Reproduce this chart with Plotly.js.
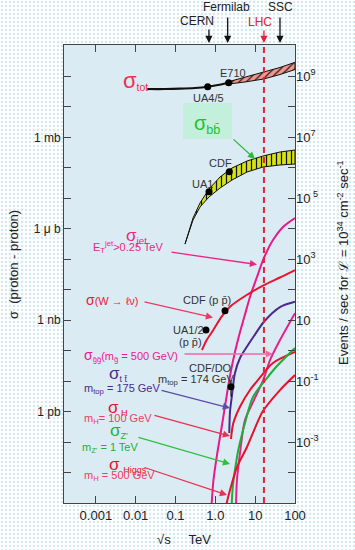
<!DOCTYPE html>
<html><head><meta charset="utf-8">
<script src="https://cdn.plot.ly/plotly-3.0.1.min.js"></script>
<style>
html,body{margin:0;padding:0;}
body{width:355px;height:550px;background-color:#fbfdfe;
background-image:radial-gradient(#d3e6f0 0.7px, transparent 0.9px);background-size:4px 4px;}
#chart{width:355px;height:550px;}
</style></head>
<body><div id="chart"></div>
<script>
// ---- data (sqrt(s) in TeV, sigma in nb) ----
const sqrtS_tot = [0.0195, 0.0545, 0.129, 0.308, 0.643, 1.16, 2.16];
const sigma_tot = [3.85e7, 3.85e7, 3.94e7, 4.16e7, 4.58e7, 5.21e7, 6.2e7];
const sqrtS_totBand = [2.16, 5.55, 16.3, 42, 100];
const sigma_totHi = [6.7e7, 9.55e7, 1.36e8, 1.96e8, 2.9e8];
const sigma_totLo = [5.6e7, 6.55e7, 8.2e7, 1.15e8, 1.68e8];

const sqrtS_bb = [0.173, 0.275, 0.412, 0.692, 1.31, 2.62, 6.23, 15.7, 42, 100];
const sigma_bbHi = [315, 2250, 7000, 2.01e4, 4.99e4, 9.84e4, 1.67e5, 2.44e5, 3.30e5, 3.84e5];
const sigma_bbLo = [315, 1936, 5160, 1.10e4, 2.17e4, 3.97e4, 7.28e4, 1.06e5, 1.24e5, 1.33e5];

const sqrtS_jet = [0.778, 0.809, 0.897, 1.10, 1.47, 1.85, 2.33, 3.11, 4.16, 5.24, 7.41, 11.1, 16.6, 28.0, 49.9, 100];
const sigma_jet = [5.9e-7, 1e-6, 5.68e-6, 3.75e-5, 3.62e-4, 2.39e-3, 0.0147, 0.0901, 0.408, 1.17, 5.75, 26.1, 110, 427, 1140, 2250];

const sqrtS_W = [0.462, 0.607, 0.887, 1.44, 2.33, 6.12, 16.6, 42.0, 100];
const sigma_W = [0.105, 0.223, 0.475, 1.30, 2.76, 6.68, 14.2, 25.1, 44.2];

const sqrtS_tt = [2.24, 2.33, 2.62, 3.11, 4.16, 6.60, 9.33, 16.6, 42, 100];
const sigma_tt = [1.98e-4, 9.66e-4, 3.49e-3, 0.0184, 0.0573, 0.153, 0.302, 0.889, 2.70, 4.03];

const sqrtS_gg = [3.28, 3.49, 4.16, 5.55, 9.33, 16.0, 23.6, 42, 100];
const sigma_gg = [6e-7, 5.68e-6, 4.37e-5, 5.28e-4, 2.39e-3, 0.0109, 0.0492, 0.223, 1.7];

const sqrtS_Zp = [2.54, 2.73, 3.11, 3.77, 5.55, 8.81, 19.8, 35.3, 100];
const sigma_Zp = [5.9e-7, 3.34e-6, 1.21e-5, 5.47e-5, 4.21e-4, 3.01e-3, 0.0126, 0.0313, 0.122];

const sqrtS_H100 = [2.47, 2.82, 4.16, 7.41, 11.8, 28.0, 100];
const sigma_H100 = [1.26e-4, 4.11e-4, 1.44e-3, 5.09e-3, 0.0109, 0.0392, 0.0901];

const sqrtS_H500 = [1.81, 1.96, 2.62, 3.49, 6.23, 9.89, 15.7, 42, 100];
const sigma_H500 = [5.9e-7, 1.08e-6, 4.52e-6, 1.51e-5, 6.87e-5, 2.88e-4, 1.04e-3, 5.09e-3, 0.0158];

const totPts_x = [0.643, 2.16], totPts_y = [4.58e7, 6.2e7];
const bbPts_x = [0.692, 2.24], bbPts_y = [1.64e4, 7.45e4];
const wPts_x = [0.582, 1.75], wPts_y = [0.475, 2.04];
const wErrPlus = [0, 0.5], wErrMinus = [0, 0.4];
const ttPt_x = [2.47], ttPt_y = [6.5e-3], ttErrPlus = [0.0044], ttErrMinus = [0.0034];

const colliderNames = ['CERN', 'Fermilab', 'LHC', 'SSC'];
const colliderE = [0.69, 2.04, 16.6, 42];

const xTickVals = [0.001, 0.01, 0.1, 1, 10, 100];
const xTickText = ['0.001', '0.01', '0.1', '1.0', '10', '100'];
const yLabelVals = [1e6, 1e3, 1, 1e-3];
const yLabelText = ['1 mb', '1 \u03bc b', '1 nb', '1 pb'];
const rateVals = [1e9, 1e7, 1e5, 1e3, 10, 0.1, 1e-3];
const rateText = ['10<sup>9</sup>', '10<sup>7</sup>', '10<sup> 5</sup>', '10<sup>3</sup>', '10', '10<sup>-1</sup>', '10<sup>-3</sup>'];

// ---- layout helpers ----
const W = 355, H = 550, ML = 64, MR = 60, MT = 45, MB = 47;
const PW = W - ML - MR, PH = H - MT - MB;
const xRange = [-3.8, 2.0], yRange = [-6.0, 9.03];
const FONT = 'Arial, "Liberation Sans", sans-serif';
const px = x => (x - ML) / PW, py = y => (H - MB - y) / PH;

const yTickVals = [], yTickText = [];
for (let e = -6; e <= 9; e++) {
  const v = Math.pow(10, e); yTickVals.push(v);
  const i = yLabelVals.findIndex(u => Math.abs(Math.log10(u) - e) < 1e-9);
  yTickText.push(i >= 0 ? yLabelText[i] : ' ');
}

function line(x, y, color, width, extra) {
  return Object.assign({x, y, type: 'scatter', mode: 'lines', line: {color, width, shape: 'spline', smoothing: 0.8},
    hoverinfo: 'skip', showlegend: false}, extra || {});
}
function band(xs, hi, lo, bg, shape, fg) {
  return {x: xs.concat(xs.slice().reverse()), y: hi.concat(lo.slice().reverse()), type: 'scatter', mode: 'lines',
    fill: 'toself', fillcolor: bg, fillpattern: {shape, bgcolor: bg, fgcolor: fg, size: 5, solidity: 0.25},
    line: {color: '#111', width: 1}, hoverinfo: 'skip', showlegend: false};
}
function pts(x, y, extra) {
  return Object.assign({x, y, type: 'scatter', mode: 'markers', marker: {color: '#000', size: 7},
    hoverinfo: 'skip', showlegend: false}, extra || {});
}

const traces = [
  band(sqrtS_totBand, sigma_totHi, sigma_totLo, '#f2958a', '/', '#222'),
  line(sqrtS_tot, sigma_tot, '#111', 2.2),
  band(sqrtS_bb, sigma_bbHi, sigma_bbLo, '#d6e21c', '|', '#111'),
  line(sqrtS_jet, sigma_jet, '#e8198a', 2),
  line(sqrtS_W, sigma_W, '#ec1230', 2),
  line(sqrtS_tt, sigma_tt, '#4a2a8c', 2),
  line(sqrtS_gg, sigma_gg, '#e8208e', 2),
  line(sqrtS_H100, sigma_H100, '#e6122c', 2),
  line(sqrtS_Zp, sigma_Zp, '#1cb038', 2),
  line(sqrtS_H500, sigma_H500, '#e6122c', 2),
  line([colliderE[2], colliderE[2]], [Math.pow(10, yRange[0]), Math.pow(10, yRange[1])], '#e8203a', 2,
       {line: {color: '#e8203a', width: 2, dash: '6px,4px'}}),
  pts(totPts_x, totPts_y),
  pts(bbPts_x, bbPts_y),
  pts(wPts_x, wPts_y, {error_y: {type: 'data', array: wErrPlus, arrayminus: wErrMinus, color: '#000', thickness: 1, width: 0}}),
  pts(ttPt_x, ttPt_y, {error_y: {type: 'data', array: ttErrPlus, arrayminus: ttErrMinus, color: '#000', thickness: 1, width: 0}}),
  {x: [], y: [], yaxis: 'y2', type: 'scatter', mode: 'markers', showlegend: false, hoverinfo: 'skip'}
];

const anns = [];
function txt(text, x, y, size, color, extra) {
  anns.push(Object.assign({text, x: px(x), y: py(y), xref: 'paper', yref: 'paper', showarrow: false,
    xanchor: 'center', yanchor: 'middle', font: {family: FONT, size, color}}, extra || {}));
}
function arr(hx, hy, tx, ty, color) {
  anns.push({text: '', x: px(hx), y: py(hy), xref: 'paper', yref: 'paper', showarrow: true,
    ax: tx - hx, ay: ty - hy, arrowhead: 2, arrowsize: 1.1, arrowwidth: 1.3, arrowcolor: color});
}
const big = (s, n) => '<span style="font-size:' + n + 'px">' + s + '</span>';
const SIG = '\u03c3';

// collider arrows above the frame (x from the data)
const topTail = [28, 16, 29, 16];
colliderE.forEach((e, i) => {
  anns.push({text: '', x: Math.log10(e), xref: 'x', y: 1 + 2 / PH, yref: 'paper', showarrow: true,
    ax: 0, ay: -(43 - topTail[i]), arrowhead: 2, arrowsize: 1.1, arrowwidth: 1.3,
    arrowcolor: i === 2 ? '#e8203a' : '#111'});
});
txt(colliderNames[0], 197, 21, 12, '#222');
txt(colliderNames[1], 226, 7, 12, '#222');
txt(colliderNames[2], 260, 22, 12, '#e8203a');
txt(colliderNames[3], 280, 7, 12, '#222');

// sigma_tot
txt(big(SIG, 22) + '<sub>tot</sub>', 135, 81, 15, '#e8354f');
txt('E710', 233, 73, 11, '#333');
txt('UA4/5', 208, 98.5, 11, '#333');

// sigma_bb
txt(big(SIG, 20) + '<sub>bb\u0304</sub>', 207, 125, 18, '#22c030');
arr(255, 159, 232, 138, '#2cba3a');
txt('CDF', 220, 163, 11, '#333');
txt('UA1', 202, 183.5, 11, '#333');

// jet
txt(big(SIG, 17) + '<sub>jet</sub>', 136, 236, 14, '#e8287f');
txt('E<sub>T</sub><sup>jet</sup>&gt;0.25 TeV', 128, 247, 11, '#e8287f');
arr(257, 264.5, 170, 252, '#e8287f');

// W
txt(big(SIG, 14) + '(W \u2192 \u2113\u03bd)', 112, 300, 11, '#ec1a3a');
arr(213, 317.5, 143, 301.5, '#ea3a62');
txt('CDF (p p\u0304)', 207, 299.5, 11, '#333');
txt('UA1/2', 188, 330, 11, '#333');
txt('(p p\u0304)', 190, 342, 11, '#333');

// gluino
txt(big(SIG, 14) + '<sub>g\u0303g\u0303</sub>(m<sub>g\u0303</sub> = 500 GeV)', 131, 355, 11, '#e8208e');
arr(273, 354, 183, 354, '#ee6aaa');

// top
txt(big(SIG, 17) + '<sub>t t\u0304</sub>', 118, 374, 13, '#4a2a8c');
txt('m<sub>top</sub> = 175 GeV', 122, 389, 11, '#4a2a8c');
arr(230, 408, 160, 390, '#5a4ca8');
txt('CDF/DO', 210, 368, 11, '#333');
txt('m<sub>top</sub> = 174 GeV', 196, 379.5, 11, '#333');

// Higgs 100
txt(big(SIG, 17) + '<sub> H</sub>', 118, 408, 13, '#e6122c');
txt('m<sub>H</sub>= 100 GeV', 118, 419, 11, '#ec4060');
arr(230, 436, 153, 415, '#ea3050');

// Z'
txt(big(SIG, 17) + '<sub>Z\'</sub>', 119, 431, 13, '#1cb038');
txt('m<sub>Z\'</sub> = 1 TeV', 110, 448, 11, '#1cb038');
arr(230, 464, 137, 437, '#30c040');

// Higgs 500
txt(big(SIG, 17) + ' <sub>Higgs</sub>', 128, 465, 13, '#e6122c');
txt('m<sub>H</sub> = 500 GeV', 119, 476, 11, '#ec4060');
arr(227, 495, 143, 467, '#ea3050');

// axis titles
txt('\u221as &nbsp;&nbsp;&nbsp; TeV', 184, 539, 13, '#222');
txt('\u03c3 &nbsp;(proton - proton)', 13, 265, 13, '#222', {textangle: -90});
txt('Events / sec for \u2112 = 10<sup>34</sup> cm<sup>-2</sup> sec<sup>-1</sup>', 343, 263, 13, '#222', {textangle: -90});

const shapes = [{type: 'rect', xref: 'paper', yref: 'paper', x0: px(183), x1: px(232), y0: py(139), y1: py(103),
  fillcolor: '#c2f0dc', line: {width: 0}, layer: 'below'}];

const layout = {
  width: W, height: H, margin: {l: ML, r: MR, t: MT, b: MB},
  paper_bgcolor: 'rgba(0,0,0,0)', plot_bgcolor: '#dbebf3',
  font: {family: FONT, size: 12, color: '#222'},
  showlegend: false,
  xaxis: {type: 'log', range: xRange, tickvals: xTickVals, ticktext: xTickText, ticks: 'inside', ticklen: 7,
    tickcolor: '#444', showline: true, linecolor: '#444', linewidth: 1, mirror: 'ticks', showgrid: false,
    zeroline: false, tickfont: {size: 13, color: '#222'}},
  yaxis: {type: 'log', range: yRange, tickvals: yTickVals, ticktext: yTickText, ticks: 'inside', ticklen: 7,
    tickcolor: '#444', showline: true, linecolor: '#444', linewidth: 1, mirror: 'ticks', showgrid: false,
    zeroline: false, tickfont: {size: 12, color: '#222'}},
  yaxis2: {type: 'log', overlaying: 'y', side: 'right', anchor: 'x', range: [yRange[0] + 1, yRange[1] + 1],
    tickvals: rateVals, ticktext: rateText, ticks: '', showgrid: false, zeroline: false, showline: false,
    tickfont: {size: 13, color: '#222'}},
  annotations: anns, shapes: shapes
};
Plotly.newPlot('chart', traces, layout, {staticPlot: true, displayModeBar: false});
</script></body></html>
